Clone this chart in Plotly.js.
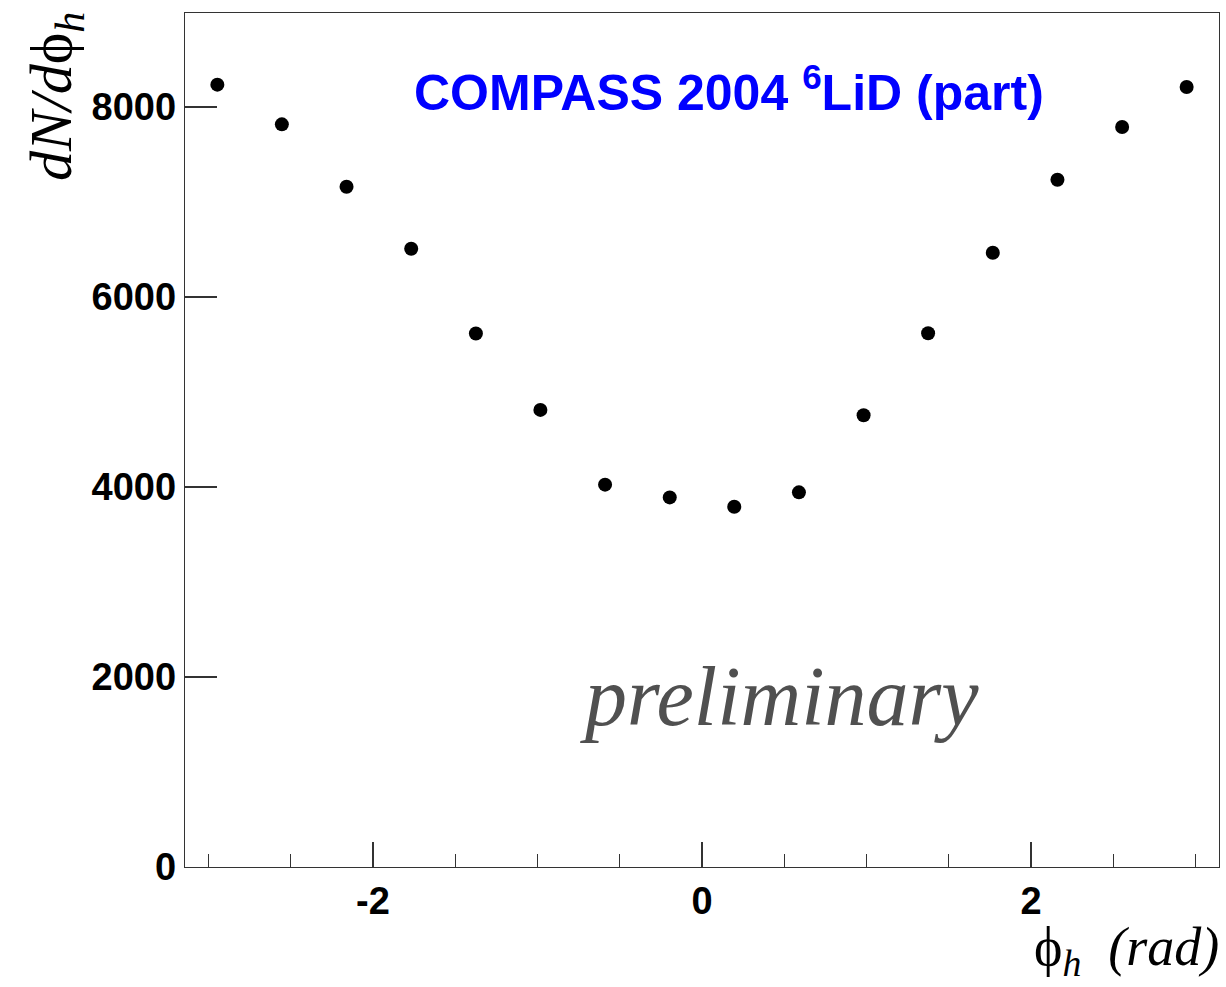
<!DOCTYPE html>
<html>
<head>
<meta charset="utf-8">
<script src="https://cdn.plot.ly/plotly-3.0.1.min.js"></script>
<style>html,body{margin:0;padding:0;background:#fff;}#chart{width:1226px;height:987px;}</style>
</head>
<body>
<div id="chart"></div>
<script>
// Bin centres of 16 bins over [-pi, pi] (rad)
const phiH = [-2.945, -2.553, -2.160, -1.767, -1.374, -0.982, -0.589, -0.196,
               0.196,  0.589,  0.982,  1.374,  1.767,  2.160,  2.553,  2.945];
// dN/dphi_h counts
const counts = [8236, 7818, 7161, 6508, 5616, 4812, 4025, 3891,
                3793, 3944, 4755, 5619, 6466, 7235, 7790, 8211];
const xTickVals = [-2, 0, 2];
const xTickText = ['-2', '0', '2'];
const yTickVals = [0, 2000, 4000, 6000, 8000];
const yTickText = ['0', '2000', '4000', '6000', '8000'];

const tickFont = {family: 'Liberation Sans, Arial, sans-serif', size: 38, color: '#000', weight: 'bold'};
const frame = '#333';

const trace = {
  x: phiH, y: counts, type: 'scatter', mode: 'markers',
  marker: {color: '#000', size: 14, symbol: 'circle'},
  hoverinfo: 'skip', showlegend: false
};

const layout = {
  width: 1226, height: 987,
  margin: {l: 185, r: 7, t: 13, b: 120},
  paper_bgcolor: '#fff', plot_bgcolor: '#fff',
  showlegend: false,
  xaxis: {
    range: [-Math.PI, Math.PI], showgrid: false, zeroline: false,
    showline: true, mirror: true, linecolor: frame, linewidth: 1.3,
    tickmode: 'array', tickvals: xTickVals, ticktext: xTickText,
    ticks: 'inside', ticklen: 25, tickwidth: 1.3, tickcolor: frame,
    minor: {tickmode: 'linear', tick0: 0, dtick: 0.5, ticks: 'inside', ticklen: 13, tickwidth: 1.3, tickcolor: frame, showgrid: false},
    tickfont: tickFont
  },
  yaxis: {
    range: [0, 8990], showgrid: false, zeroline: false,
    showline: true, mirror: true, linecolor: frame, linewidth: 1.3,
    tickmode: 'array', tickvals: yTickVals, ticktext: yTickText,
    ticks: 'inside', ticklen: 32, tickwidth: 1.3, tickcolor: frame,
    tickfont: tickFont
  },
  annotations: [
    {
      text: '<b>COMPASS 2004 <sup>6</sup>LiD (part)</b>',
      xref: 'paper', yref: 'paper',
      x: (729 - 185) / 1034, y: (867 - 89) / 854,
      xanchor: 'center', yanchor: 'middle', showarrow: false,
      font: {family: 'Liberation Sans, Arial, sans-serif', size: 50, color: '#0000ff'}
    },
    {
      text: '<i>preliminary</i>',
      xref: 'paper', yref: 'paper',
      x: (779 - 185) / 1034, y: (867 - 696) / 854,
      xanchor: 'center', yanchor: 'middle', showarrow: false,
      font: {family: 'Liberation Serif, Times New Roman, serif', size: 84, color: '#505050'}
    },
    {
      text: '<i>dN/d</i>ϕ<sub><i>h</i></sub>',
      xref: 'paper', yref: 'paper',
      x: (55 - 185) / 1034, y: (867 - 97) / 854,
      xanchor: 'center', yanchor: 'middle', textangle: -90, showarrow: false,
      font: {family: 'Liberation Serif, DejaVu Serif, serif', size: 60, color: '#000'}
    },
    {
      text: 'ϕ<sub><i>h</i></sub>  <i>(rad)</i>',
      xref: 'paper', yref: 'paper',
      x: 1.002, y: (867 - 950) / 854,
      xanchor: 'right', yanchor: 'middle', showarrow: false,
      font: {family: 'Liberation Serif, DejaVu Serif, serif', size: 54, color: '#000'}
    }
  ]
};

Plotly.newPlot('chart', [trace], layout, {displayModeBar: false, staticPlot: true});
</script>
</body>
</html>
